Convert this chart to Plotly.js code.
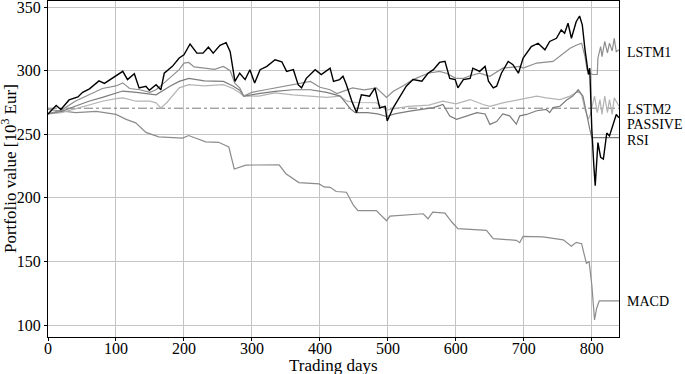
<!DOCTYPE html>
<html>
<head>
<meta charset="utf-8">
<script src="https://cdn.plot.ly/plotly-3.0.1.min.js"></script>
<style>
  html, body { margin: 0; padding: 0; background: #fff; }
  #chart { width: 685px; height: 374px; }
</style>
</head>
<body>
<div id="chart"></div>
<script>
// Portfolio value per strategy (10^3 Eur)

var passiveDays = [0, 12, 19, 31, 44, 51, 61, 75, 83, 100, 110, 117, 127, 134, 144, 149, 159, 166, 171, 183, 193, 200, 209, 219, 228, 236, 243, 253, 262, 268, 275, 282, 290, 297, 304, 312, 322, 334, 344, 351, 361, 368, 373, 380, 393, 402, 415, 420, 429, 434, 439, 447, 454, 461, 473, 481, 488, 496, 499, 508, 518, 527, 537, 550, 559, 567, 576, 584, 591, 599, 603, 611, 621, 625, 635, 643, 648, 655, 660, 667, 677, 684, 692, 699, 711, 721, 731, 738, 748, 755, 760, 765, 770, 777, 782, 786, 790, 793, 795, 797, 800, 803, 805, 809, 813, 817, 822, 826, 831, 836, 840];
var passiveVal = [266, 272.7, 269.5, 277, 279.4, 283, 285.7, 292, 290, 296, 299.5, 293, 297.6, 286.5, 287.8, 284.6, 289, 285, 298, 303.4, 310, 312.5, 321, 313.8, 313.8, 318.5, 313.8, 320, 322, 315, 291.6, 298, 293, 300.8, 290.4, 300.8, 303.4, 308.6, 307, 299.5, 300.8, 289, 286.5, 294, 300.8, 297, 302, 291.6, 293, 295.6, 289, 276, 267, 281, 280, 286.5, 270.8, 272, 260.5, 271, 280, 287.8, 293, 291.7, 298, 300.8, 306.5, 307.3, 294, 293, 286.5, 293, 294, 302, 299.5, 303.4, 291.7, 286.5, 287.8, 298, 307.3, 304.7, 298, 310, 319, 321.6, 316.4, 323, 325.5, 332, 329.4, 337.3, 325.5, 338.5, 343, 336, 316.4, 303.4, 297, 302, 254, 225, 209.6, 243.5, 231.8, 230.5, 251, 248.7, 258, 265.6, 263];

var lstm1Days = [0, 20, 40, 60, 80, 100, 110, 120, 135, 150, 159, 170, 183, 193, 200, 207, 215, 230, 245, 258, 268, 275, 282, 288, 300, 320, 334, 350, 370, 386, 400, 415, 425, 448, 465, 483, 498, 508, 522, 537, 559, 576, 586, 600, 611, 621, 635, 650, 669, 694, 699, 719, 743, 758, 768, 777, 785, 790, 793, 797, 802, 808, 809, 813, 815, 819, 823, 826, 830, 833, 836, 840];
var lstm1Val = [266, 269, 276, 281, 286, 288, 290.4, 286, 285, 283, 285, 290, 296, 300.8, 306, 306.5, 303, 302, 301, 303.4, 300, 290, 286.5, 280, 283, 285, 286.5, 288, 290, 291.6, 287, 285, 282, 286.5, 285, 286.5, 279, 283.8, 288, 293, 298, 299.5, 298, 294, 294, 296, 298, 295.6, 302, 303.4, 302, 306, 307.3, 313.8, 317.7, 320, 321.6, 311, 300.8, 298, 297, 297, 310, 319, 311, 323, 314, 321.6, 315.6, 325.5, 315, 316.4];

var lstm2Days = [0, 20, 40, 60, 80, 100, 110, 130, 150, 159, 166, 175, 193, 207, 230, 258, 272, 282, 288, 310, 334, 360, 386, 410, 429, 440, 452, 470, 483, 498, 510, 530, 560, 581, 600, 621, 640, 650, 669, 694, 719, 733, 753, 768, 780, 785, 790, 795, 798, 804, 808, 812, 815, 819, 823, 826, 830, 833, 840];
var lstm2Val = [266, 267, 270, 273, 276, 278, 278.6, 276, 276, 274.7, 270.8, 275, 286.5, 289, 288, 289, 286, 282.6, 280, 280, 282.6, 281, 280, 279, 280, 276, 275, 275, 274.8, 269, 270, 272, 273, 276, 274, 277.3, 273.4, 272, 274.7, 277.3, 280, 278.6, 277.3, 280, 283.8, 281, 269.5, 261.7, 266, 280, 267, 277.3, 265.6, 280, 267, 277.3, 265.6, 278.6, 272];

var rsiDays = [0, 20, 40, 60, 80, 100, 110, 130, 159, 180, 193, 207, 230, 258, 272, 282, 288, 310, 334, 360, 386, 410, 430, 445, 452, 470, 485, 498, 510, 530, 547, 567, 581, 591, 601, 621, 631, 643, 650, 660, 669, 679, 689, 694, 704, 719, 733, 738, 743, 753, 763, 772, 780, 787, 792, 797, 800, 840];
var rsiVal = [266, 268, 272, 276, 279, 282, 284, 283, 281, 288, 291.6, 294, 292, 291.6, 288, 284.6, 280, 282, 283.8, 285, 285, 283, 280, 270, 267, 267, 266, 264, 266, 268, 269.5, 271, 273.4, 264.3, 261.7, 265.6, 267, 266, 257.8, 260, 266, 264.5, 258, 264.5, 265.6, 268.5, 269.5, 267, 271, 272, 277, 280, 285, 280, 266, 254, 247.4, 247.4];

var macdDays = [0, 41, 71, 100, 115, 129, 144, 163, 198, 207, 232, 251, 266, 274, 291, 340, 350, 369, 399, 406, 415, 424, 439, 449, 456, 483, 498, 503, 552, 559, 566, 584, 594, 603, 645, 655, 689, 694, 699, 728, 758, 770, 777, 785, 792, 796, 800, 804, 807, 811, 840];
var macdVal = [269.5, 267, 268, 265.6, 261.7, 259, 251.5, 248, 247, 249, 244, 243.7, 240, 222.7, 225.8, 226, 219, 212, 211, 208.6, 208.3, 205, 204.4, 194.5, 190, 190, 182, 185.7, 187.5, 183.6, 188.8, 188, 181, 175.8, 174.5, 168, 166.6, 164.8, 169.8, 169.3, 167, 162, 165, 164, 148.5, 149.8, 131.5, 104, 113, 119, 119];

var baseline = 270.5;  // flat dash-dot reference

var labelNames = ["LSTM1", "LSTM2", "PASSIVE", "RSI", "MACD"];
var labelY = [314, 269.5, 257.8, 245.3, 118.8];

var serif = "Liberation Serif, Times New Roman, serif";

var traces = [
  {x: [0, 840], y: [baseline, baseline], mode: "lines",
   line: {color: "#7a7a7a", width: 1, dash: "dashdot"}},
  {x: macdDays, y: macdVal, mode: "lines", line: {color: "#8c8c8c", width: 1.2}},
  {x: lstm2Days, y: lstm2Val, mode: "lines", line: {color: "#b4b4b4", width: 1.2}},
  {x: rsiDays, y: rsiVal, mode: "lines", line: {color: "#7c7c7c", width: 1.2}},
  {x: lstm1Days, y: lstm1Val, mode: "lines", line: {color: "#8e8e8e", width: 1.2}},
  {x: passiveDays, y: passiveVal, mode: "lines", line: {color: "#000000", width: 1.4}}
];

var annotations = labelNames.map(function(name, i) {
  return {
    text: name, xref: "paper", x: 1, xshift: 6, xanchor: "left",
    yref: "y", y: labelY[i], yanchor: "middle", showarrow: false,
    font: {family: serif, size: 14, color: "#000"}
  };
});

// axis titles as annotations so they sit where the reference has them
annotations.push({
  text: "Trading days", xref: "paper", x: 0.5, yref: "paper", y: 0,
  yshift: -28, xanchor: "center", yanchor: "middle", showarrow: false,
  font: {family: serif, size: 17, color: "#000"}
});
annotations.push({
  text: "Portfolio value [10<sup>3</sup> Eur]", textangle: -90,
  xref: "paper", x: 0, xshift: -39, yref: "paper", y: 0.5,
  xanchor: "center", yanchor: "middle", showarrow: false,
  font: {family: serif, size: 17, color: "#000"}
});

var layout = {
  width: 685, height: 374,
  margin: {l: 48, r: 66, t: 1, b: 37},
  paper_bgcolor: "#fff", plot_bgcolor: "#fff",
  showlegend: false,
  font: {family: serif, size: 16, color: "#000"},
  xaxis: {
    range: [0, 840], tickvals: [0, 100, 200, 300, 400, 500, 600, 700, 800],
    showgrid: true, gridcolor: "#c4c4c4", gridwidth: 1,
    showline: true, linecolor: "#000", linewidth: 1, mirror: true,
    ticks: "outside", ticklen: 3, tickcolor: "#000", zeroline: false,
    ticklabelstandoff: -6, ticklabeloverflow: "allow",
    tickfont: {family: serif, size: 16}
  },
  yaxis: {
    range: [90.6, 354.8], tickvals: [100, 150, 200, 250, 300, 350],
    showgrid: true, gridcolor: "#c4c4c4", gridwidth: 1,
    showline: true, linecolor: "#000", linewidth: 1, mirror: true,
    ticks: "outside", ticklen: 3, tickcolor: "#000", zeroline: false,
    ticklabeloverflow: "allow",
    tickfont: {family: serif, size: 16}
  },
  annotations: annotations
};

Plotly.newPlot("chart", traces, layout, {staticPlot: true});
</script>
</body>
</html>
